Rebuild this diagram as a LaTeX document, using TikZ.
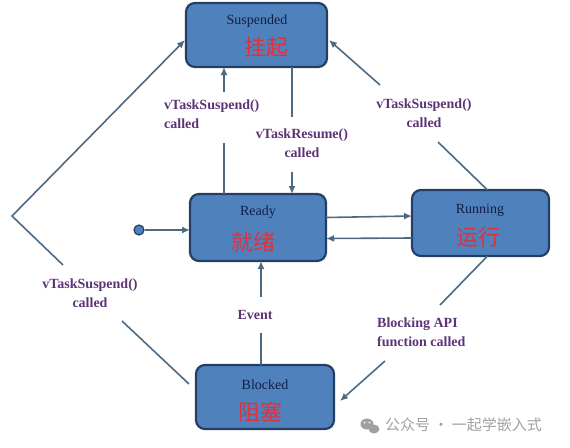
\documentclass[tikz,border=0pt]{standalone}
\usepackage{fontspec}
\setmainfont{Liberation Serif}
\newfontfamily\cjk{Noto Sans CJK SC}
\usetikzlibrary{arrows.meta}
\definecolor{boxfill}{RGB}{79,129,189}
\definecolor{boxborder}{RGB}{36,62,100}
\definecolor{entext}{RGB}{18,30,70}
\definecolor{zhtext}{RGB}{222,50,62}
\definecolor{conncol}{RGB}{78,106,130}
\definecolor{lblcol}{RGB}{92,52,118}
\definecolor{wmcol}{RGB}{160,160,160}
\begin{document}
\begin{tikzpicture}[x=1pt,y=-1pt,
  statebox/.style={draw=boxborder, line width=2.2pt, fill=boxfill, rounded corners=9pt, inner sep=0pt, outer sep=0pt},
  entxt/.style={text=entext, font=\fontsize{14}{16}\selectfont, inner sep=0pt},
  zhtxt/.style={text=zhtext, font=\cjk\fontsize{22}{24}\selectfont, inner sep=0pt},
  seg/.style={draw=conncol, line width=1.6pt},
  arr/.style={seg, -{Latex[length=8pt,width=7pt]}},
  lbl/.style={text=lblcol, font=\bfseries\fontsize{14}{19}\selectfont, inner sep=0pt},
  initdot/.style={circle, draw=boxborder, line width=1.2pt, fill=boxfill, minimum size=10pt, inner sep=0pt}
]
\useasboundingbox (0,0) rectangle (570,447);

% states
\node[statebox, minimum width=141pt, minimum height=64pt] (sus) at (256.5,35) {};
\node[statebox, minimum width=136pt, minimum height=67pt] (ready) at (258,227.5) {};
\node[statebox, minimum width=137pt, minimum height=66pt] (run) at (480.5,223) {};
\node[statebox, minimum width=138pt, minimum height=64pt] (blk) at (265,397) {};

\node[entxt] (susen) at (257,21) {Suspended};
\node[zhtxt] (suszh) at (266,47) {挂起};
\node[entxt] (readyen) at (258,212) {Ready};
\node[zhtxt] (readyzh) at (253,242) {就绪};
\node[entxt] (runen) at (480,210) {Running};
\node[zhtxt] (runzh) at (478,237) {运行};
\node[entxt] (blken) at (265,385) {Blocked};
\node[zhtxt] (blkzh) at (260,412) {阻塞};

% labels
\node[lbl, anchor=west, align=left] (l1) at (164,114) {vTaskSuspend()\\called};
\node[lbl, align=center] (l2) at (302,143) {vTaskResume()\\called};
\node[lbl, align=center] (l3) at (424,113) {vTaskSuspend()\\called};
\node[lbl, align=center] (l4) at (90,293) {vTaskSuspend()\\called};
\node[lbl] (l5) at (255,315) {Event};
\node[lbl, anchor=west, align=left] (l6) at (377,332) {Blocking API\\function called};

% Ready -> Suspended
\coordinate (a1) at (224,143);
\coordinate (a2) at (224,92);
\draw[seg] (a1 |- ready.north) -- (a1);
\draw[arr] (a2) -- (a2 |- sus.south);

% Suspended -> Ready (resume)
\coordinate (b1) at (292,117);
\coordinate (b2) at (292,172);
\draw[seg] (b1 |- sus.south) -- (b1);
\draw[arr] (b2) -- (b2 |- ready.north);

% Running -> Suspended
\coordinate (c1) at (438,142);
\coordinate (c2) at (380,85);
\coordinate (c3) at ([shift={(2pt,-5pt)}]sus.east);
\draw[seg] ([xshift=7pt]run.north) -- (c1);
\draw[arr] (c2) -- (c3);

% Ready <-> Running
\draw[arr] ([yshift=10pt]ready.east) -- ([yshift=7pt]run.west);
\draw[arr] ([yshift=-15pt]run.west) -- ([yshift=-11pt]ready.east);

% initial
\node[initdot] (init) at (139,230) {};
\draw[arr] (init) -- (init -| ready.west);

% Blocked -> Ready (Event)
\coordinate (e1) at (261,333);
\coordinate (e2) at (261,297);
\draw[seg] (e1 |- blk.north) -- (e1);
\draw[arr] (e2) -- (e2 |- ready.south);

% Running -> Blocked
\coordinate (f1) at (440,305);
\coordinate (f2) at (385,361);
\coordinate (f3) at ([shift={(6pt,-4pt)}]blk.east);
\draw[seg] ([xshift=7pt]run.south) -- (f1);
\draw[arr] (f2) -- (f3);

% Blocked -> Suspended (left path)
\coordinate (g0) at ([shift={(-7pt,-19pt)}]blk.north west);
\coordinate (g1) at (122,321);
\coordinate (g2) at (63,265);
\coordinate (gk) at (12,216);
\coordinate (g3) at ([shift={(-1pt,-5pt)}]sus.west);
\draw[seg] (g0) -- (g1);
\draw[arr] (g2) -- (gk) -- (g3);

% watermark
\node[text=wmcol, font=\cjk\fontsize{15}{17}\selectfont, inner sep=0pt, anchor=west] (wm) at (385,425) {公众号 · 一起学嵌入式};
\fill[wmcol] (367,424) ellipse (6.5pt and 5.5pt);
\fill[wmcol] (374,429) ellipse (5.5pt and 4.5pt);
\fill[white] (364.5,422.5) circle (1pt) (369.5,422.5) circle (1pt);
\end{tikzpicture}
\end{document}
